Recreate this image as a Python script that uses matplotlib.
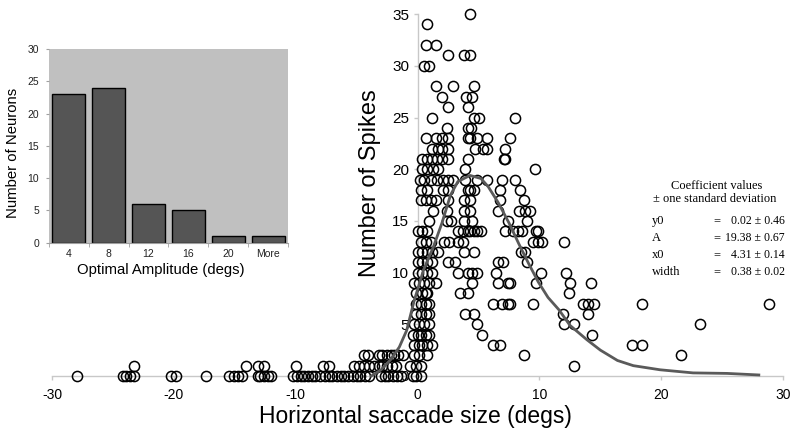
import matplotlib
matplotlib.use("Agg")
import matplotlib.pyplot as plt
import numpy as np

plt.rcParams['font.family'] = ['Liberation Sans', 'DejaVu Sans']
plt.rcParams['axes.unicode_minus'] = False

# scatter: saccade sizes (deg) listed for each spike count 0..35
spike_counts = list(range(36))
saccades_by_count = [
    [-27.95, -24.2, -23.9, -23.6, -23.3, -20.2, -19.8, -17.4, -15.5, -15.1, -14.7, -14.4,
     -13.1, -12.9, -12.6, -12.3, -12.0, -10.2, -9.9, -9.6, -9.3, -9.0, -8.7, -8.4, -8.0,
     -7.6, -7.3, -7.0, -6.6, -6.3, -6.0, -5.7, -5.3, -5.0, -4.7, -4.3, -4.0, -3.0, -2.7,
     -2.4, -2.0, -1.7, -1.4, -0.4, -0.1, 0.25],
    [-23.3, -14.1, -13.1, -12.6, -10.0, -7.8, -7.3, -5.2, -4.8, -4.4, -4.0, -3.6, -3.2,
     -2.9, -2.5, -2.1, -1.8, -0.6, -0.15, 0.25, 12.8],
    [-4.4, -4.1, -3.2, -2.9, -2.5, -2.2, -1.9, -1.6, -1.2, -0.3, 0.1, 0.8, 8.7, 21.6],
    [-0.3, 0.1, 0.4, 0.8, 1.2, 6.2, 6.8, 17.6, 18.4],
    [-0.4, 0.0, 0.25, 0.65, 0.9, 5.3, 14.3],
    [-0.3, 0.1, 0.5, 0.9, 4.9, 12.0, 12.8, 23.2],
    [-0.15, 0.25, 0.65, 0.9, 3.9, 4.6, 11.9, 14.0],
    [-0.15, 0.25, 0.65, 0.9, 6.2, 6.9, 7.4, 7.6, 9.5, 13.6, 14.0, 14.5, 18.4, 28.8],
    [-0.15, 0.4, 0.65, 0.8, 3.5, 4.1, 12.4],
    [-0.3, 0.1, 0.5, 0.9, 1.5, 4.5, 6.6, 7.4, 7.6, 9.7, 12.5, 14.2],
    [0.0, 0.4, 0.8, 1.2, 3.3, 4.1, 4.5, 4.9, 6.4, 10.1, 12.2],
    [0.0, 0.4, 0.8, 1.2, 2.5, 3.1, 6.6, 7.0, 9.0],
    [0.0, 0.4, 0.8, 1.2, 1.7, 3.8, 4.6, 8.5, 8.8],
    [0.25, 0.65, 1.1, 2.2, 2.6, 3.3, 3.7, 9.5, 9.9, 10.2, 12.0],
    [0.0, 0.4, 0.8, 3.3, 3.7, 4.1, 4.3, 4.6, 4.9, 5.2, 7.2, 7.8, 8.2, 8.6, 9.7, 9.9],
    [0.9, 2.4, 2.7, 3.8, 4.5, 7.4, 9.0],
    [1.3, 2.4, 3.8, 4.3, 6.6, 8.3, 8.8, 9.2],
    [0.25, 0.65, 1.1, 1.5, 2.5, 3.8, 4.3, 6.8, 8.7],
    [0.3, 0.8, 2.1, 2.5, 4.1, 4.3, 4.6, 6.8, 8.4],
    [0.2, 0.5, 1.1, 1.6, 2.1, 2.5, 2.9, 3.9, 4.9, 5.7, 6.9, 8.0],
    [0.35, 0.8, 1.3, 1.7, 3.9, 9.6],
    [0.4, 0.8, 1.2, 1.6, 2.0, 2.5, 4.1, 7.1, 7.2],
    [1.2, 1.7, 2.0, 2.5, 4.7, 5.4, 5.7, 7.2],
    [0.7, 1.55, 2.0, 2.5, 4.1, 4.3, 4.9, 5.7, 7.6],
    [2.45, 4.1, 4.4],
    [1.2, 4.6, 5.0, 8.0],
    [2.5, 4.1],
    [2.0, 4.0, 4.5],
    [1.55, 2.9, 4.6],
    [],
    [0.5, 0.9],
    [2.5, 3.8, 4.3],
    [0.65, 1.55],
    [],
    [0.8],
    [4.3],
]

# fitted curve
fit_x = [-3.8, -3.0, -2.2, -1.5, -0.9, -0.3, 0.5, 1.3, 2.0, 2.7, 3.3, 4.3, 5.2, 5.8,
         6.6, 7.5, 8.3, 9.1, 9.9, 10.7, 11.6, 12.5, 13.9, 15.0, 16.4, 17.7, 19.9,
         22.6, 25.4, 28.0]
fit_y = [0.0, 0.6, 1.6, 2.8, 4.4, 7.2, 10.3, 12.5, 14.8, 17.5, 18.8, 19.4, 19.1, 18.3,
         16.8, 14.8, 12.8, 10.9, 9.1, 7.6, 6.4, 4.9, 3.5, 2.5, 1.5, 1.0, 0.6, 0.3, 0.25, 0.1]

# inset histogram
amp_bins = ['4', '8', '12', '16', '20', 'More']
n_neurons = [23, 24, 6, 5, 1, 1]

coef_names = ['y0', 'A', 'x0', 'width']
coef_values = ['0.02 \u00b1 0.46', '19.38 \u00b1 0.67', '4.31 \u00b1 0.14', '0.38 \u00b1 0.02']

xs = np.concatenate([np.array(v, float) for v in saccades_by_count])
ys = np.concatenate([np.full(len(v), c, float) for c, v in zip(spike_counts, saccades_by_count)])

W, H = 800, 428
fig = plt.figure(figsize=(8, 4.28), dpi=100)

ax = fig.add_axes([0.065, 0.1215, 0.914, 0.8455])
ax.plot(xs, ys, 'o', ms=7.3, mfc='none', mec='black', mew=1.1, clip_on=False, zorder=3)
ax.plot(fit_x, fit_y, color='#5a5a5a', lw=2.0, zorder=4, clip_on=False)
ax.set_xlim(-30, 30)
ax.set_ylim(0, 35)
ax.set_xticks([-30, -20, -10, 0, 10, 20, 30])
ax.set_yticks(range(0, 36, 5))
for s in ['top', 'right']:
    ax.spines[s].set_visible(False)
ax.spines['left'].set_position(('data', 0))
for s in ['left', 'bottom']:
    ax.spines[s].set_color('#c8c8c8')
    ax.spines[s].set_linewidth(1)
ax.tick_params(axis='x', length=3, width=1, color='#c8c8c8', pad=6, labelsize=10)
ax.tick_params(axis='y', length=3, width=1, color='#c8c8c8', pad=3, labelsize=11)
ax.patch.set_alpha(0)

fig.text(370 / W, 1 - 183 / H, 'Number of Spikes', rotation=90, ha='center', va='center', size=17)
fig.text(415 / W, 1 - 423 / H, 'Horizontal saccade size (degs)', ha='center', va='baseline', size=16.5)

# coefficient table
serif = 'Liberation Serif'
fig.text(717 / W, 1 - 186 / H, 'Coefficient values', ha='center', va='center', size=9, family=serif)
fig.text(715 / W, 1 - 199.5 / H, '\u00b1 one standard deviation', ha='center', va='center', size=9, family=serif)
for i, (nm, val) in enumerate(zip(coef_names, coef_values)):
    yy = 1 - (221 + 17 * i) / H
    fig.text(652 / W, yy, nm, ha='left', va='center', size=9, family=serif)
    fig.text(717 / W, yy, '=', ha='center', va='center', size=9, family=serif)
    fig.text(785 / W, yy, val, ha='right', va='center', size=8.5, family=serif)

# inset bar chart
ax2 = fig.add_axes([0.061, 0.4334, 0.299, 0.4521])
ax2.set_facecolor('#c0c0c0')
pos = np.arange(len(amp_bins))
ax2.bar(pos, n_neurons, width=0.83, color='#555555', edgecolor='black', linewidth=1)
ax2.set_xlim(-0.5, len(amp_bins) - 0.5)
ax2.set_ylim(0, 30)
ax2.set_yticks(range(0, 31, 5))
ax2.set_xticks(pos)
ax2.set_xticklabels(amp_bins)
ax2.set_xticks(np.arange(-0.5, len(amp_bins)), minor=True)
for s in ['top', 'right', 'left']:
    ax2.spines[s].set_visible(False)
ax2.spines['bottom'].set_color('#a0a0a0')
ax2.tick_params(axis='x', which='major', length=0, pad=5, labelsize=7.5, labelcolor='#222222')
ax2.tick_params(axis='x', which='minor', length=3, color='#a0a0a0')
ax2.tick_params(axis='y', length=2, color='#a0a0a0', pad=5, labelsize=7.5, labelcolor='#222222')

fig.text(161 / W, 1 - 270 / H, 'Optimal Amplitude (degs)', ha='center', va='center', size=10.7)
fig.text(13 / W, 1 - 153 / H, 'Number of Neurons', rotation=90, ha='center', va='center', size=10.7)

fig.savefig('out.png', dpi=100)
